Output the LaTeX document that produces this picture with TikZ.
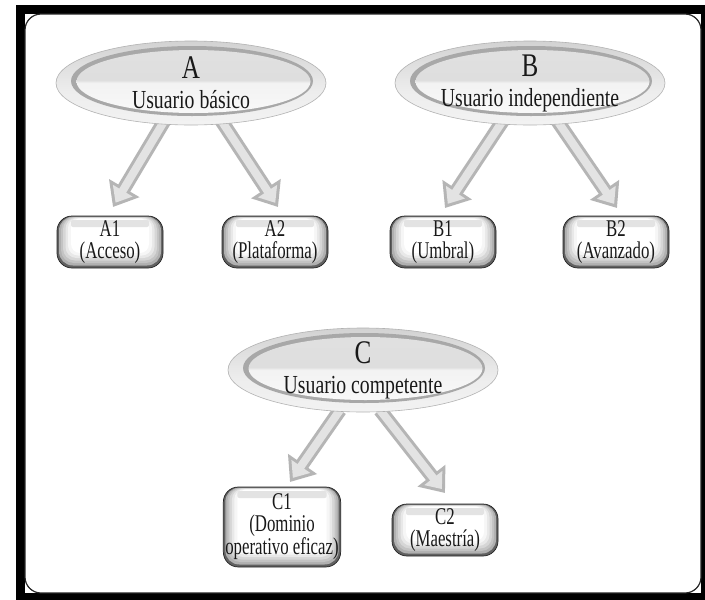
\documentclass[tikz,border=0pt]{standalone}
\usepackage{fontspec}
\setmainfont{Liberation Serif}[FakeStretch=0.76]
\newfontfamily\boxfont{Liberation Serif}[FakeStretch=0.7]
\usetikzlibrary{shapes.geometric,arrows.meta,calc}
\pgfdeclarelayer{frame}
\pgfdeclarelayer{bg}
\pgfsetlayers{frame,bg,main}
\pgfdeclareverticalshading{outerell}{100bp}{color(0bp)=(gray!35); color(15bp)=(gray!8); color(45bp)=(gray!14); color(75bp)=(gray!35); color(100bp)=(gray!50)}
\pgfdeclareverticalshading{innerell}{100bp}{color(0bp)=(white); color(49bp)=(gray!10); color(51bp)=(gray!26); color(100bp)=(gray!22)}
\newcommand\plyr[6]{\fill[#1,rounded corners=#6pt]
  ($(path picture bounding box.south west)+(#2pt,#5pt)$) rectangle
  ($(path picture bounding box.north east)+(-#4pt,-#3pt)$);}
\tikzset{
  lvl/.style={ellipse, minimum width=270pt, minimum height=84pt, inner sep=0pt,
    shade, shading=outerell, draw=gray!60, line width=0.6pt,
    align=center, text=black!90, font=\fontsize{26}{30}\selectfont,
    path picture={
      \fill[gray!68] ($(path picture bounding box.center)+(1pt,2pt)$) ellipse (121pt and 35pt);
      \shade[shading=innerell] ($(path picture bounding box.center)+(2.5pt,1.5pt)$) ellipse (117pt and 31.5pt);}},
  lvbox/.style={rectangle, rounded corners=15pt, minimum width=106pt, minimum height=52pt,
    inner sep=2pt, draw=gray!30!black, line width=0.7pt, fill=black!62,
    align=center, font=\boxfont\fontsize{24}{22}\selectfont, text=black!90,
    path picture={
      \plyr{gray!62}{2}{0.6}{2}{2.5}{14}
      \plyr{gray!47}{4}{1}{4}{5}{13}
      \plyr{gray!32}{6}{1.4}{6}{7.5}{12}
      \plyr{gray!18}{8.5}{1.8}{8.5}{10}{11}
      \plyr{gray!7}{11}{2.2}{11}{12.5}{10}
      \plyr{white}{14}{2.6}{14}{15}{9}
      \fill[gray!22, rounded corners=2pt]
        ($(path picture bounding box.north west)+(14pt,-4pt)$) rectangle
        ($(path picture bounding box.north east)+(-14pt,-11pt)$);}},
  blk/.style={line width=14pt, draw=gray!58, -{Triangle[length=22pt,width=34pt]}},
  hl/.style={line width=8pt, draw=gray!22, shorten >=5pt, -{Triangle[length=14pt,width=22pt]}, xshift=-1pt, yshift=1pt}
}
\begin{document}
\begin{tikzpicture}[x=1pt,y=-1pt]
\useasboundingbox (0,0) rectangle (705,600);
% frame
\begin{pgfonlayer}{frame}
\fill[black] (16,5) rectangle (705,600);
\fill[white] (25,14) rectangle (701,593);
\draw[line width=1.2pt, black!85, rounded corners=16pt] (25,14) rectangle (701,593);
\end{pgfonlayer}

% level ellipses
\node[lvl] (A) at (191,83) {{\fontsize{33}{30}\selectfont A}\\Usuario básico};
\node[lvl] (B) at (530,83) {{\fontsize{33}{30}\selectfont B}\\Usuario independiente};
\node[lvl] (C) at (363,370) {{\fontsize{33}{30}\selectfont C}\\Usuario competente};

% boxes
\node[lvbox] (A1) at (110,242) {A1\\(Acceso)};
\node[lvbox] (A2) at (275,242) {A2\\(Plataforma)};
\node[lvbox] (B1) at (443,242) {B1\\(Umbral)};
\node[lvbox] (B2) at (616,242) {B2\\(Avanzado)};
\node[lvbox, minimum width=108pt, minimum height=80pt] (C1) at (282,527) {C1\\(Dominio\\operativo eficaz)};
\node[lvbox] (C2) at (445,530) {C2\\(Maestría)};

% arrows
\begin{pgfonlayer}{bg}
\coordinate (a1s) at ($(A.center)+(-22pt,-30pt)$);
\coordinate (a1e) at ($(A1.center)+(3pt,35pt)$);
\coordinate (a2s) at ($(A.center)+(26pt,-31pt)$);
\coordinate (a2e) at ($(A2.center)+(3pt,35pt)$);
\coordinate (b1s) at ($(B.center)+(-24pt,-33pt)$);
\coordinate (b1e) at ($(B1.center)+(2pt,34pt)$);
\coordinate (b2s) at ($(B.center)+(24pt,-33pt)$);
\coordinate (b2e) at ($(B2.center)+(1pt,34pt)$);
\coordinate (c1s) at ($(C.center)+(-23pt,-40pt)$);
\coordinate (c1e) at ($(C1.center)+(8pt,45pt)$);
\coordinate (c2s) at ($(C.center)+(17pt,-40pt)$);
\coordinate (c2e) at ($(C2.center)+(0pt,37pt)$);
\foreach \p in {a1,a2,b1,b2,c1,c2}{
  \draw[blk] (\p s) -- (\p e);
  \draw[hl] (\p s) -- (\p e);
}
\end{pgfonlayer}
\end{tikzpicture}
\end{document}
